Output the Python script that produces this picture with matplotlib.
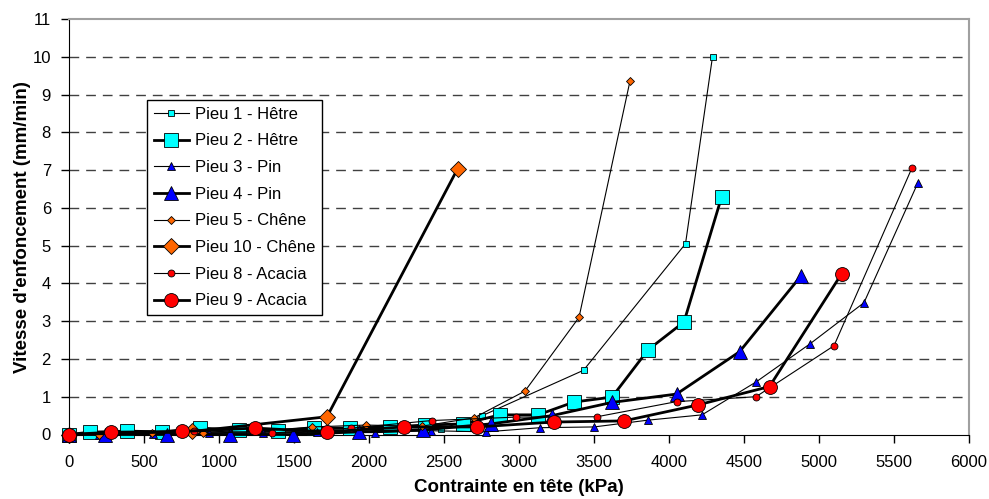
import matplotlib.pyplot as plt
import numpy as np

# Pieu 1 - Hetre (small squares)
p1_x = [0, 620, 1240, 1860, 2480, 2750, 3430, 4110, 4290]
p1_y = [0, 0.03, 0.08, 0.12, 0.15, 0.49, 1.7, 5.05, 10.0]
# Pieu 2 - Hetre (big squares)
p2_x = [0, 140, 387, 620, 873, 1133, 1393, 1633, 1873, 2140, 2373, 2627, 2873, 3127, 3367, 3620, 3860, 4100, 4350]
p2_y = [0, 0.06, 0.09, 0.07, 0.17, 0.12, 0.10, 0.17, 0.17, 0.20, 0.25, 0.28, 0.52, 0.52, 0.86, 0.99, 2.24, 2.98, 6.28]
# Pieu 3 - Pin (small triangles)
p3_x = [0, 200, 560, 930, 1290, 1650, 2040, 2410, 2780, 3140, 3500, 3860, 4220, 4580, 4940, 5300, 5660]
p3_y = [0, 0.0, 0.02, 0.03, 0.04, 0.06, 0.05, 0.10, 0.07, 0.18, 0.20, 0.38, 0.52, 1.39, 2.40, 3.49, 6.67]
# Pieu 4 - Pin (big triangles)
p4_x = [0, 240, 650, 1070, 1490, 1930, 2360, 2810, 3220, 3620, 4050, 4470, 4880]
p4_y = [0, 0.0, 0.0, 0.0, 0.0, 0.07, 0.12, 0.28, 0.50, 0.85, 1.07, 2.19, 4.20]
# Pieu 5 - Chene (small diamonds)
p5_x = [0, 200, 550, 890, 1250, 1620, 1980, 2350, 2700, 3040, 3400, 3740]
p5_y = [0, 0.0, 0.04, 0.03, 0.08, 0.20, 0.25, 0.22, 0.44, 1.15, 3.10, 9.36]
# Pieu 10 - Chene (big diamonds)
p10_x = [0, 820, 1720, 2590]
p10_y = [0, 0.08, 0.47, 7.03]
# Pieu 8 - Acacia (small circles)
p8_x = [0, 300, 830, 1350, 1880, 2420, 2980, 3520, 4050, 4580, 5100, 5620]
p8_y = [0, 0.05, 0.10, 0.04, 0.17, 0.37, 0.46, 0.47, 0.87, 1.00, 2.35, 7.06]
# Pieu 9 - Acacia (big circles)
p9_x = [0, 280, 750, 1240, 1720, 2230, 2720, 3230, 3700, 4190, 4670, 5150]
p9_y = [0, 0.06, 0.08, 0.17, 0.07, 0.20, 0.20, 0.33, 0.36, 0.78, 1.27, 4.25]

series = [
    ("Pieu 1 - Hêtre", p1_x, p1_y, 's', '#00FFFF', 4.5, 0.8),
    ("Pieu 2 - Hêtre", p2_x, p2_y, 's', '#00FFFF', 9.5, 2.0),
    ("Pieu 3 - Pin", p3_x, p3_y, '^', '#0000FF', 5.5, 0.8),
    ("Pieu 4 - Pin", p4_x, p4_y, '^', '#0000FF', 10.5, 2.0),
    ("Pieu 5 - Chêne", p5_x, p5_y, 'D', '#FF6600', 4.0, 0.8),
    ("Pieu 10 - Chêne", p10_x, p10_y, 'D', '#FF6600', 8.0, 2.0),
    ("Pieu 8 - Acacia", p8_x, p8_y, 'o', '#FF0000', 5.0, 0.8),
    ("Pieu 9 - Acacia", p9_x, p9_y, 'o', '#FF0000', 10.0, 2.0),
]

plt.rcParams['font.family'] = ['Liberation Sans', 'DejaVu Sans']

fig = plt.figure(figsize=(9.89, 4.99), dpi=100)
ax = fig.add_axes([69 / 989, 64.5 / 499, 900 / 989, 415.5 / 499])

for y in range(1, 11):
    ax.axhline(y, color='#404040', lw=1, dashes=(7, 5), zorder=0)

for label, xs, ys, m, c, ms, lw in series:
    ax.plot(xs, ys, color='black', lw=lw, marker=m, ms=ms, mfc=c,
            mec='black', mew=0.6, label=label, clip_on=False, zorder=3)

ax.set_xlim(0, 6000)
ax.set_ylim(0, 11)
ax.set_xticks(np.arange(0, 6001, 500))
ax.set_yticks(np.arange(0, 12, 1))
ax.tick_params(labelsize=12, length=6, width=1)
ax.tick_params(axis='x', pad=9)
ax.tick_params(axis='y', pad=7)
ax.spines['top'].set_color('#a0a0a0')
ax.spines['right'].set_color('#a0a0a0')
ax.spines['top'].set_linewidth(1.5)
ax.spines['right'].set_linewidth(1.5)

ax.set_xlabel("Contrainte en tête (kPa)", fontsize=13.5, fontweight='bold', labelpad=6)
ax.set_ylabel("Vitesse d'enfoncement (mm/min)", fontsize=13.5, fontweight='bold', labelpad=1)

leg = ax.legend(loc='upper left', bbox_to_anchor=(0.0867, 0.805), fontsize=12,
                frameon=True, fancybox=False, edgecolor='black', framealpha=1,
                handlelength=2.1, labelspacing=0.7, borderpad=0.4, borderaxespad=0,
                handletextpad=0.4)
leg.get_frame().set_linewidth(1)

fig.savefig('out.png', dpi=100)
